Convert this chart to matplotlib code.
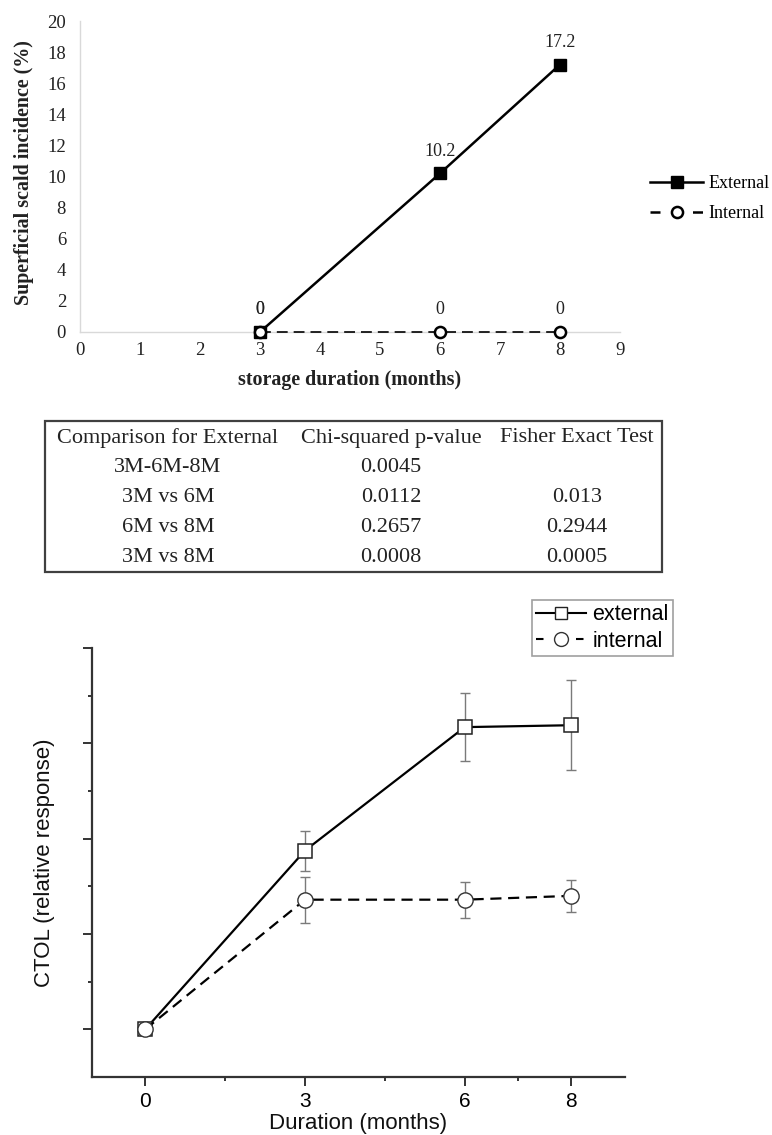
import matplotlib
matplotlib.use('Agg')
import matplotlib.pyplot as plt
from matplotlib.lines import Line2D
from matplotlib.patches import Rectangle

# ---------------- data ----------------
months_top = [3, 6, 8]
external_top = [0, 10.2, 17.2]
internal_top = [0, 0, 0]
top_yticks = list(range(0, 21, 2))
top_xticks = list(range(0, 10))

table_header = ["Comparison for External", "Chi-squared p-value", "Fisher Exact Test"]
comparisons = ["3M-6M-8M", "3M vs 6M", "6M vs 8M", "3M vs 8M"]
chi_p = ["0.0045", "0.0112", "0.2657", "0.0008"]
fisher_p = ["", "0.013", "0.2944", "0.0005"]

months_bot = [0, 3, 6, 8]
external_bot = [1.0, 2.875, 4.17, 4.19]
external_err = [0.02, 0.21, 0.36, 0.47]
internal_bot = [1.0, 2.36, 2.36, 2.40]
internal_err = [0.02, 0.24, 0.19, 0.17]
bot_xticks = [0, 3, 6, 8]
bot_xminor = [1.5, 4.5, 7]
bot_yticks = [1, 2, 3, 4, 5]
bot_yminor = [1.5, 2.5, 3.5, 4.5]

W, H = 772, 1135
fig = plt.figure(figsize=(W / 100, H / 100), dpi=100)


def ax_px(l, t, r, b):
    return fig.add_axes([l / W, 1 - b / H, (r - l) / W, (b - t) / H])


SERIF = 'Liberation Serif'
SANS = 'Liberation Sans'

# ---------------- top chart ----------------
ax1 = ax_px(80, 21, 620, 332)
ax1.set_xlim(0, 9)
ax1.set_ylim(0, 20)
for s in ['top', 'right']:
    ax1.spines[s].set_visible(False)
for s in ['left', 'bottom']:
    ax1.spines[s].set_color('#d9d9d9')
    ax1.spines[s].set_linewidth(1.0)
ax1.set_xticks(top_xticks)
ax1.set_yticks(top_yticks)
ax1.tick_params(axis='both', length=0, labelsize=13.5, labelcolor='#222222')
ax1.tick_params(axis='y', pad=10)
ax1.tick_params(axis='x', pad=7)
for lab in ax1.get_xticklabels() + ax1.get_yticklabels():
    lab.set_family(SERIF)

dash_top = (0, (6.5, 3.6))
ax1.plot(months_top, external_top, color='black', lw=1.8, marker='s',
         markersize=8.6, mfc='black', mec='black', clip_on=False, zorder=3,
         label='External')
ax1.plot(months_top, internal_top, color='black', lw=1.2, ls=dash_top,
         marker='o', markersize=8, mfc='white', mec='black', mew=1.8,
         clip_on=False, zorder=4, label='Internal')
for x, v in zip(months_top, external_top):
    ax1.annotate(f"{v:g}", (x, v), xytext=(0, 16), textcoords='offset points',
                 ha='center', va='center', fontsize=13, family=SERIF,
                 color='#222222')
for x, v in zip(months_top, internal_top):
    ax1.annotate(f"{v:g}", (x, v), xytext=(0, 16), textcoords='offset points',
                 ha='center', va='center', fontsize=13, family=SERIF,
                 color='#222222')

ax1.set_ylabel('Superficial scald incidence (%)', fontsize=14.4,
               fontweight='bold', family=SERIF, color='#222222')
ax1.yaxis.set_label_coords((24 - 80) / 540, (332 - 173) / 311)
ax1.yaxis.label.set_va('center')
ax1.set_xlabel('storage duration (months)', fontsize=14.4,
               fontweight='bold', family=SERIF, color='#222222')
ax1.xaxis.set_label_coords(0.5, (332 - 380) / 311)
ax1.xaxis.label.set_va('center')

h1 = [Line2D([], [], color='black', lw=1.8, marker='s', markersize=8.6,
             mfc='black', mec='black'),
      Line2D([], [], color='black', lw=1.8, ls=(0, (4.0, 4.5)), marker='o',
             markersize=8, mfc='white', mec='black', mew=1.8)]
leg1 = fig.legend(h1, ['External', 'Internal'], loc='center left',
                  bbox_to_anchor=(650 / W, 1 - 199 / H), frameon=False,
                  prop={'family': SERIF, 'size': 13}, handlelength=2.95,
                  handletextpad=0.3, labelspacing=0.72, borderpad=0,
                  borderaxespad=0)

# ---------------- table ----------------
axt = ax_px(45, 421, 662, 572)
axt.set_xlim(0, 1)
axt.set_ylim(0, 1)
axt.axis('off')
axt.add_patch(Rectangle((0, 0), 1, 1, transform=axt.transAxes, fill=False,
                        edgecolor='#404040', lw=1.6, clip_on=False))
col_x = [(168 - 45) / 617, (391 - 45) / 617, (577 - 45) / 617]
row_y = [1 - (y - 421) / 151 for y in [438, 468, 498, 527.5, 558]]
for cx, txt in zip(col_x, table_header):
    axt.text(cx, row_y[0], txt, ha='center', va='center', fontsize=16,
             family=SERIF, color='#222222')
for i in range(len(comparisons)):
    for cx, txt in zip(col_x, [comparisons[i], chi_p[i], fisher_p[i]]):
        axt.text(cx, row_y[i + 1], txt, ha='center', va='center',
                 fontsize=16, family=SERIF, color='#222222')

# ---------------- bottom chart ----------------
ax2 = ax_px(92, 648, 624.5, 1077)
ax2.set_xlim(-1, 9)
ax2.set_ylim(0.5, 5)
for s in ['top', 'right']:
    ax2.spines[s].set_visible(False)
for s in ['left', 'bottom']:
    ax2.spines[s].set_color('#333333')
    ax2.spines[s].set_linewidth(1.6)
ax2.set_xticks(bot_xticks)
ax2.set_xticks(bot_xminor, minor=True)
ax2.set_yticks(bot_yticks)
ax2.set_yticks(bot_yminor, minor=True)
ax2.set_yticklabels([])
ax2.tick_params(axis='both', which='major', direction='out', length=6.5,
                width=1.4, color='#333333', labelsize=15, pad=4)
ax2.tick_params(axis='both', which='minor', direction='out', length=3,
                width=1.4, color='#333333')
for lab in ax2.get_xticklabels():
    lab.set_family(SANS)

ax2.errorbar(months_bot, external_bot, yerr=external_err, fmt='none',
             ecolor='#7a7a7a', elinewidth=1.0, capsize=3.3, capthick=1.0,
             zorder=2)
ax2.errorbar(months_bot, internal_bot, yerr=internal_err, fmt='none',
             ecolor='#7a7a7a', elinewidth=1.0, capsize=3.3, capthick=1.0,
             zorder=2)
dash_bot = (0, (5.0, 3.0))
ax2.plot(months_bot, external_bot, color='black', lw=1.6, marker='s',
         markersize=9.5, mfc='white', mec='#222222', mew=1.1, zorder=3)
ax2.plot(months_bot, internal_bot, color='black', lw=1.6, ls=dash_bot,
         marker='o', markersize=11, mfc='white', mec='#333333', mew=1.0,
         zorder=4)

ax2.set_xlabel('Duration (months)', fontsize=16, family=SANS,
               color='#111111')
ax2.xaxis.set_label_coords(0.5, (1077 - 1124) / 429)
ax2.xaxis.label.set_va('center')
ax2.set_ylabel('CTOL (relative response)', fontsize=16, family=SANS,
               color='#111111')
ax2.yaxis.set_label_coords((45 - 92) / 532.5, 0.5)
ax2.yaxis.label.set_va('center')

h2 = [Line2D([], [], color='black', lw=1.5, marker='s', markersize=8.5,
             mfc='white', mec='#222222', mew=1.0),
      Line2D([], [], color='black', lw=1.5, ls=(0, (3.6, 15.6)), marker='o',
             markersize=10, mfc='white', mec='#333333', mew=1.0)]
leg2 = fig.legend(h2, ['external', 'internal'], loc='upper left',
                  bbox_to_anchor=(532 / W, 1 - 600 / H), frameon=True,
                  fancybox=False, edgecolor='#888888',
                  prop={'family': SANS, 'size': 15.5}, handlelength=2.3,
                  handletextpad=0.3, labelspacing=0.25, borderpad=0.2,
                  borderaxespad=0)
leg2.get_frame().set_linewidth(1.2)

fig.savefig('out.png', dpi=100)
